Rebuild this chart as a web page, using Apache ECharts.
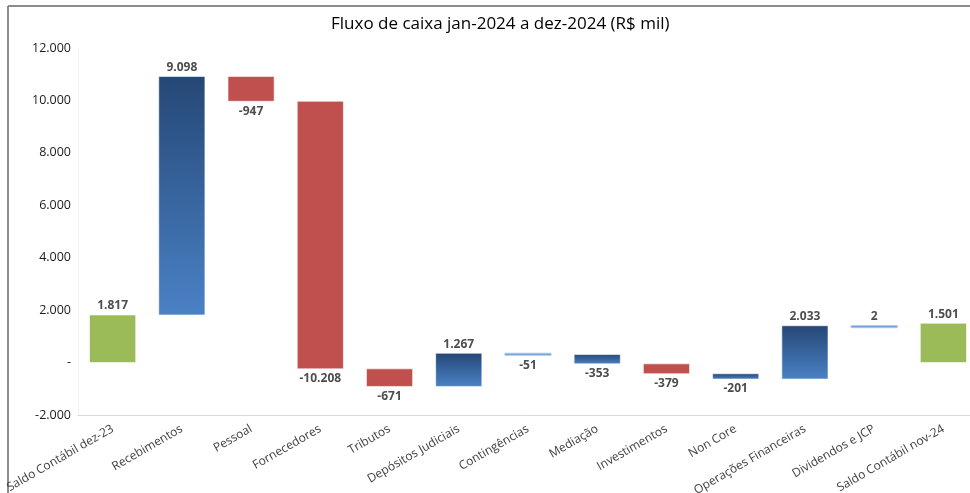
<!DOCTYPE html>
<html>
<head>
<meta charset="utf-8">
<script src="https://cdn.jsdelivr.net/npm/echarts@6/dist/echarts.min.js"></script>
<style>
  html, body { margin: 0; padding: 0; background: #fff; }
  #chart { width: 970px; height: 493px; }
</style>
</head>
<body>
<div id="chart"></div>
<script>
// categorias e valores (R$ mil)
var categories = ['Saldo Contábil dez-23', 'Recebimentos', 'Pessoal', 'Fornecedores', 'Tributos',
  'Depósitos Judiciais', 'Contingências', 'Mediação', 'Investimentos', 'Non Core',
  'Operações Financeiras', 'Dividendos e JCP', 'Saldo Contábil nov-24']
var values = [1817, 9098, -947, -10208, -671, 1267, -51, -353, -379, -201, 2033, 2, 1501]
// tipo de cada barra: total / azul / vermelho / linha
var kinds = ['total', 'blue', 'red', 'red', 'red', 'blue', 'line', 'blue', 'red', 'blue', 'blue', 'line', 'total']

function fmt(v) {
  var s = Math.abs(v).toString().replace(/\B(?=(\d{3})+(?!\d))/g, '.')
  return (v < 0 ? '-' : '') + s
}

// monta inicio/fim de cada barra
var rows = []
var acc = 0
values.forEach(function (v, i) {
  var start, end
  if (kinds[i] === 'total') {
    start = 0
    end = v
    acc = v
  } else {
    start = acc
    end = acc + v
    acc = end
  }
  rows.push([i, Math.min(start, end), Math.max(start, end), v, kinds[i]])
})

var blueGrad = function () {
  return new echarts.graphic.LinearGradient(0, 0, 0, 1, [
    { offset: 0, color: '#254775' },
    { offset: 1, color: '#4a82c6' }
  ])
}

var chart = echarts.init(document.getElementById('chart'))
var option = {
  animation: false,
  title: {
    text: 'Fluxo de caixa jan-2024 a dez-2024 (R$ mil)',
    left: 326,
    top: 11,
    textStyle: { fontFamily: 'Open Sans', fontWeight: 'normal', fontSize: 17, color: '#000' }
  },
  graphic: [
    { type: 'line', shape: { x1: 8, y1: 6, x2: 970, y2: 6 }, style: { stroke: '#8c8c8c', lineWidth: 2 } },
    { type: 'line', shape: { x1: 8, y1: 6, x2: 8, y2: 493 }, style: { stroke: '#8c8c8c', lineWidth: 2 } }
  ],
  grid: { left: 78, top: 48, width: 900, height: 367, containLabel: false, outerBoundsMode: 'none' },
  xAxis: {
    type: 'category',
    data: categories,
    axisLine: { show: true, onZero: false, lineStyle: { color: '#d9d9d9' } },
    axisTick: { show: false },
    axisLabel: {
      interval: 0,
      rotate: 30,
      margin: 13,
      fontFamily: 'Open Sans',
      fontSize: 12,
      color: '#404040'
    }
  },
  yAxis: {
    type: 'value',
    min: -2000,
    max: 12000,
    interval: 2000,
    splitLine: { show: false },
    axisLine: { show: true, lineStyle: { color: '#f2f2f2' } },
    axisTick: { show: false },
    axisLabel: {
      margin: 7,
      fontFamily: 'Open Sans',
      fontSize: 12.5,
      color: '#1a1a1a',
      formatter: function (v) { return v === 0 ? '-' : fmt(v) }
    }
  },
  series: [
    {
      type: 'custom',
      data: rows,
      encode: { x: 0, y: [1, 2] },
      renderItem: function (params, api) {
        var i = api.value(0)
        var low = api.value(1)
        var high = api.value(2)
        var v = api.value(3)
        var kind = kinds[i]
        var top = api.coord([i, high])
        var bot = api.coord([i, low])
        var w = api.size([1, 0])[0] * 0.667
        var h = Math.max(bot[1] - top[1], 2)
        var fill
        if (kind === 'total') fill = '#9bbb59'
        else if (kind === 'red') fill = '#c0504d'
        else if (kind === 'line') fill = '#6f9bd3'
        else fill = blueGrad()
        var labelY = v >= 0 ? top[1] - 9 : top[1] + h + 10
        return {
          type: 'group',
          children: [
            {
              type: 'rect',
              shape: { x: top[0] - w / 2, y: top[1], width: w, height: h },
              style: { fill: fill, stroke: kind === 'line' ? '#a9c6ec' : '#ffffff', lineWidth: kind === 'line' ? 1 : 0.6 }
            },
            {
              type: 'text',
              style: {
                x: top[0],
                y: labelY,
                text: fmt(v),
                align: 'center',
                verticalAlign: 'middle',
                fontFamily: 'Open Sans',
                fontWeight: 'bold',
                fontSize: 12,
                fill: '#4d4d4d'
              }
            }
          ]
        }
      }
    }
  ]
}
chart.setOption(option)
</script>
</body>
</html>
